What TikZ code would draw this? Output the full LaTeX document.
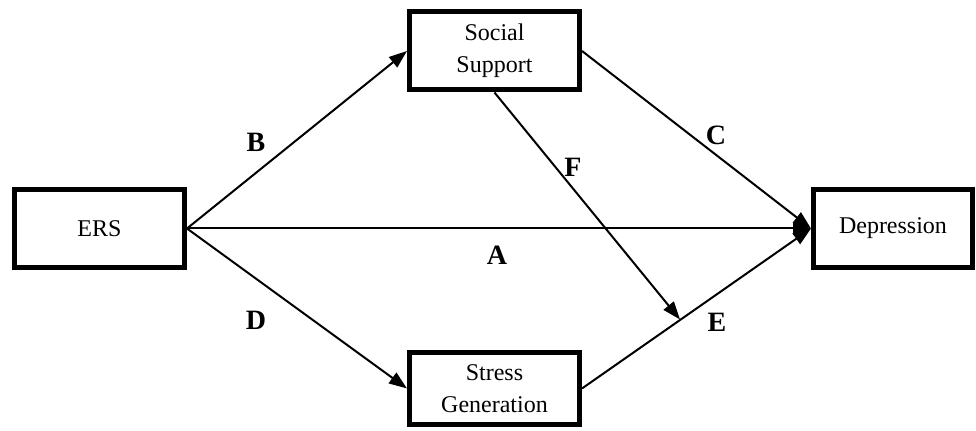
\documentclass[tikz,border=0pt]{standalone}
\usepackage{fontspec}
\setmainfont{Liberation Serif}
\usetikzlibrary{arrows.meta, shapes}

\begin{document}
\begin{tikzpicture}[x=0.5pt, y=-0.5pt,
    var/.style={draw, line width=2.5pt, fill=white, align=center, font=\fontsize{12}{16}\selectfont, minimum width=85pt, minimum height=39pt, inner sep=0pt},
    path/.style={line width=1pt, -{Triangle[length=9pt,width=6.5pt]}},
    lbl/.style={font=\fontsize{14}{16}\selectfont\bfseries}]
    \useasboundingbox (0,0) rectangle (976,431);
    \node [var] (ers) at (99.5,228.5) {ERS};
    \node [var] (soc) at (494.5,51) {Social\\Support};
    \node [var, minimum height=36pt] (stress) at (494.5,388.5) {Stress\\Generation};
    \node [var, minimum width=79.5pt] (dep) at (893,228.5) {Depression};
    \coordinate (fhit) at (680,319.5);

    \draw [path] (ers.east) -- (soc.west);
    \draw [path] (ers.east) -- (dep.west);
    \draw [path] (ers.east) -- (stress.west);
    \draw [path] (soc.east) -- (dep.west);
    \draw [path] (stress.east) -- (dep.west);
    \draw [path] (soc.south) -- (fhit);

    \node [lbl] (la) at (497,255) {A};
    \node [lbl] (lb) at (256,142) {B};
    \node [lbl] (lc) at (716,135) {C};
    \node [lbl] (ld) at (256,320) {D};
    \node [lbl] (le) at (717,322) {E};
    \node [lbl] (lf) at (573,167) {F};
  \end{tikzpicture}
\end{document}
